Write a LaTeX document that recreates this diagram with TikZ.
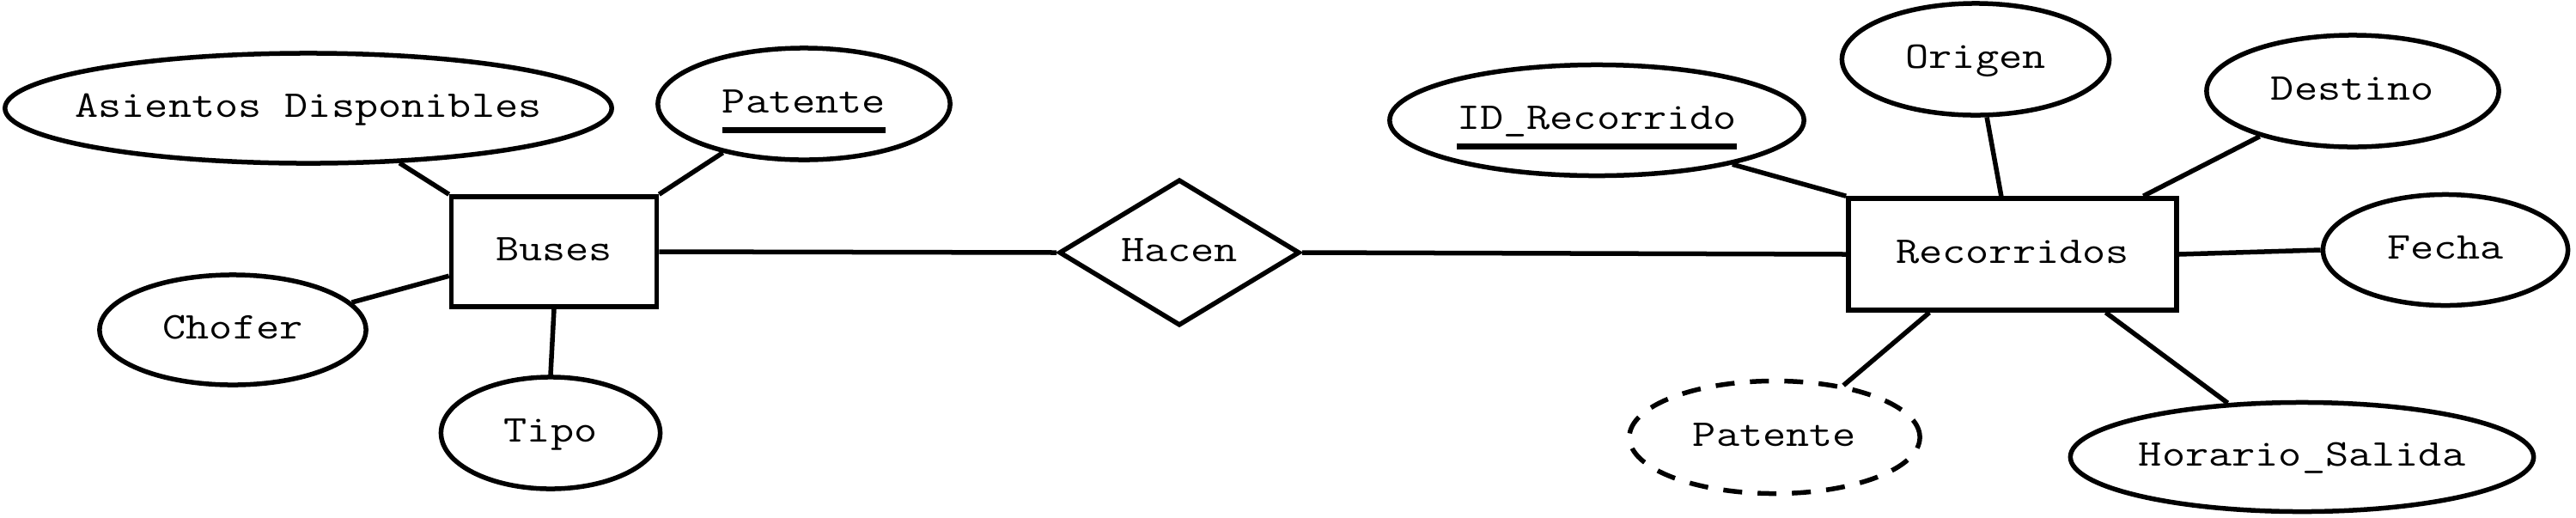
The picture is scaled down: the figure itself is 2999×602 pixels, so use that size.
\documentclass[tikz,border=0pt]{standalone}
\usepackage{fontspec}
\usepackage{graphicx}
\usetikzlibrary{shapes.geometric}
\newcommand\txt[1]{\scalebox{1.2}[1]{#1}}
\newcommand\zw[1]{\makebox[0pt]{\txt{#1}}}
\newcommand\zu[1]{\makebox[0pt]{\setbox0\hbox{\txt{#1}}\copy0\llap{\smash{\rule[-0.23cm]{\wd0}{0.07cm}}}}}
\tikzset{
  base/.style={draw, line width=0.055cm, inner sep=0pt, text height=0.27cm, text depth=0.06cm,
    font=\ttfamily\fontsize{12.5pt}{15pt}\selectfont},
  attr/.style={base, ellipse},
  weakattr/.style={base, ellipse, dash pattern=on 0.22cm off 0.18cm},
  entity/.style={base, rectangle},
  rel/.style={base, diamond},
  conn/.style={line width=0.055cm}
}
\begin{document}
\begin{tikzpicture}[x=0.01cm, y=-0.01cm]
\useasboundingbox (0,0) rectangle (2999,602);
% Left side
\node[entity, minimum width=2.39cm, minimum height=1.28cm] (buses) at (645,293) {\zw{Buses}};
\node[attr, minimum width=7.06cm, minimum height=1.28cm] (asientos) at (359,126) {\zw{Asientos Disponibles}};
\node[attr, minimum width=3.40cm, minimum height=1.30cm] (patente1) at (936,121) {\zu{Patente}};
\node[attr, minimum width=3.10cm, minimum height=1.28cm] (chofer) at (271,384) {\zw{Chofer}};
\node[attr, minimum width=2.55cm, minimum height=1.30cm] (tipo) at (641,504) {\zw{Tipo}};
% Relationship
\node[rel, minimum width=2.80cm, minimum height=1.70cm] (hacen) at (1373,294) {\zw{Hacen}};
% Right side
\node[entity, minimum width=3.82cm, minimum height=1.30cm] (recorridos) at (2343,296) {\zw{Recorridos}};
\node[attr, minimum width=4.82cm, minimum height=1.29cm] (idrec) at (1859,140) {\zu{ID\_Recorrido}};
\node[attr, minimum width=3.11cm, minimum height=1.30cm] (origen) at (2300,69) {\zw{Origen}};
\node[attr, minimum width=3.40cm, minimum height=1.30cm] (destino) at (2739,106) {\zw{Destino}};
\node[attr, minimum width=2.85cm, minimum height=1.29cm] (fecha) at (2847,291) {\zw{Fecha}};
\node[weakattr, minimum width=3.38cm, minimum height=1.31cm] (patente2) at (2066,509) {\zw{Patente}};
\node[attr, minimum width=5.39cm, minimum height=1.27cm] (horario) at (2680,532) {\zw{Horario\_Salida}};
% Connectors
\draw[conn] (asientos.-31) -- (buses.north west);
\draw[conn] (patente1.211.6) -- (buses.north east);
\draw[conn] (chofer.13.8) -- (buses.193.7);
\draw[conn] (buses.south) -- (tipo.north);
\draw[conn] (buses.east) -- (hacen.west);
\draw[conn] (hacen.east) -- (recorridos.west);
\draw[conn] (idrec.-18) -- (recorridos.north west);
\draw[conn] (origen.-79) -- (recorridos.101);
\draw[conn] (destino.206) -- (recorridos.24);
\draw[conn] (recorridos.east) -- (fecha.west);
\draw[conn] (recorridos.215.2) -- (patente2.37.4);
\draw[conn] (recorridos.-32.8) -- (horario.144.8);
\end{tikzpicture}
\end{document}
